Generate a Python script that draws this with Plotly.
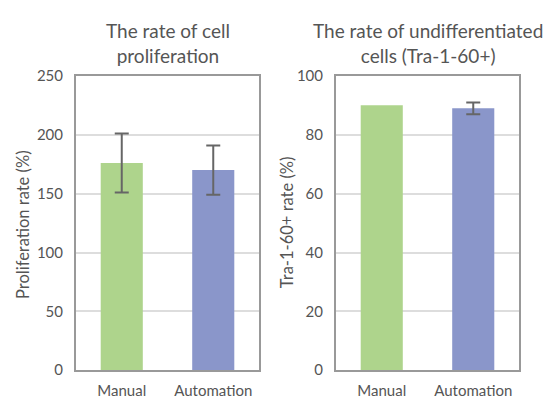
import plotly.graph_objects as go

categories = ["Manual", "Automation"]
prolif_values = [176, 170]
prolif_errors = [25, 21]
tra_values = [90, 89]
tra_errors = [0, 2]
bar_colors = ["#aed48c", "#8a96ca"]

FONT = "Lato"
TXT = "#555555"

fig = go.Figure()
fig.add_trace(go.Bar(
    x=categories, y=prolif_values, marker=dict(color=bar_colors, line=dict(width=0)),
    error_y=dict(type="data", array=prolif_errors, visible=True, color="#666666", thickness=2, width=7),
    xaxis="x", yaxis="y", showlegend=False))
fig.add_trace(go.Bar(
    x=categories[:1], y=tra_values[:1], marker=dict(color=bar_colors[0], line=dict(width=0)),
    offsetgroup="t", xaxis="x2", yaxis="y2", showlegend=False))
fig.add_trace(go.Bar(
    x=categories[1:], y=tra_values[1:], marker=dict(color=bar_colors[1], line=dict(width=0)),
    error_y=dict(type="data", array=tra_errors[1:], visible=True, color="#666666", thickness=2, width=7),
    offsetgroup="t", xaxis="x2", yaxis="y2", showlegend=False))

W, H = 547, 405
ydom = [1 - 377 / H, 1 - 69 / H]
axis_common = dict(showline=True, linecolor="#999999", linewidth=2, mirror=True,
                   tickfont=dict(family=FONT, size=15, color=TXT), zeroline=False)

fig.update_layout(
    width=W, height=H, margin=dict(l=0, r=0, t=0, b=0),
    paper_bgcolor="white", plot_bgcolor="white", bargap=0.54,
    font=dict(family=FONT, color=TXT),
    xaxis=dict(domain=[76 / W, 259 / W], anchor="y", ticklabelstandoff=6, **axis_common),
    xaxis2=dict(domain=[336 / W, 519 / W], anchor="y2", ticklabelstandoff=6,
                categoryorder="array", categoryarray=categories, **axis_common),
    yaxis=dict(domain=ydom, anchor="x", range=[0, 250], dtick=50, showgrid=True,
               gridcolor="#dddddd", gridwidth=1.5, ticklabelstandoff=8, **axis_common),
    yaxis2=dict(domain=ydom, anchor="x2", range=[0, 100], dtick=20, showgrid=True,
                gridcolor="#dddddd", gridwidth=1.5, ticklabelstandoff=8, **axis_common),
    annotations=[
        dict(text="The rate of cell<br>proliferation", x=167.5 / W, y=1 - 7 / H, xref="paper", yref="paper",
             xanchor="center", yanchor="top", showarrow=False,
             font=dict(family=FONT, size=19, color=TXT)),
        dict(text="The rate of undifferentiated<br>cells (Tra-1-60+)", x=427.5 / W, y=1 - 7 / H, xref="paper", yref="paper",
             xanchor="center", yanchor="top", showarrow=False,
             font=dict(family=FONT, size=19, color=TXT)),
        dict(text="Proliferation rate (%)", x=23 / W, y=1 - 225 / H, xref="paper", yref="paper",
             xanchor="center", yanchor="middle", textangle=-90, showarrow=False,
             font=dict(family=FONT, size=16.5, color=TXT)),
        dict(text="Tra-1-60+ rate (%)", x=287 / W, y=1 - 222 / H, xref="paper", yref="paper",
             xanchor="center", yanchor="middle", textangle=-90, showarrow=False,
             font=dict(family=FONT, size=16.5, color=TXT)),
    ],
)

fig.write_html("out.html", config={"displayModeBar": False},
               post_script="document.body.style.margin='0';")
